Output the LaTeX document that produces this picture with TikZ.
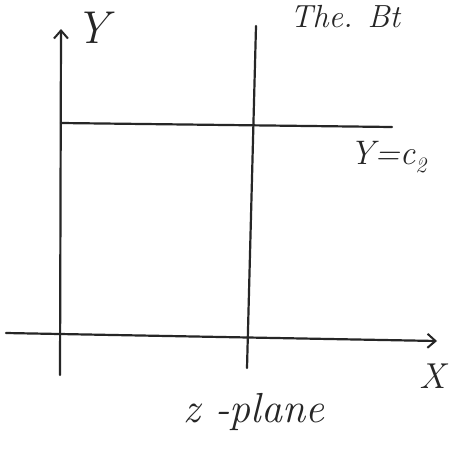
\documentclass[tikz,border=0pt]{standalone}
\usetikzlibrary{arrows.meta}
\begin{document}
\begin{tikzpicture}[x=1pt,y=-1pt,
  pen/.style={line width=2.2pt, black!85, line cap=round},
  hand/.style={inner sep=0pt, black!85},
  axisarrow/.style={pen, -{Straight Barb[length=8pt,width=14pt,line width=2pt]}}]
\useasboundingbox (0,0) rectangle (454,450);
\fill[white] (0,0) rectangle (454,450);
% coordinates
\coordinate (ytop) at (61,29);
\coordinate (ybot) at (60,375);
\coordinate (xleft) at (6,333);
\coordinate (xright) at (437,341);
\coordinate (vtop) at (256,26);
\coordinate (vbot) at (247,368);
\coordinate (hleft) at (61,123);
\coordinate (hright) at (392,127);
% axes
\draw[axisarrow] (ybot) -- (ytop);
\draw[axisarrow] (xleft) -- (xright);
% lines
\draw[pen] (vbot) -- (vtop);
\draw[pen] (hleft) -- (hright);
% labels
\node[hand, font=\fontsize{46}{48}\selectfont\itshape] (ylab) at (92,28) {Y};
\node[hand, font=\fontsize{36}{38}\selectfont\itshape] (xlab) at (433,376) {X};
\node[hand, font=\fontsize{34}{36}\selectfont\itshape] (c2lab) at (388,157) {Y=c\raisebox{-0.25em}{\fontsize{22}{24}\selectfont 2}};
\node[hand, font=\fontsize{42}{44}\selectfont\itshape] (plab) at (254,412) {z -plane};
\node[hand, font=\fontsize{32}{34}\selectfont\itshape, anchor=base west] (title) at (290,27) {The. Bt};
\end{tikzpicture}
\end{document}
